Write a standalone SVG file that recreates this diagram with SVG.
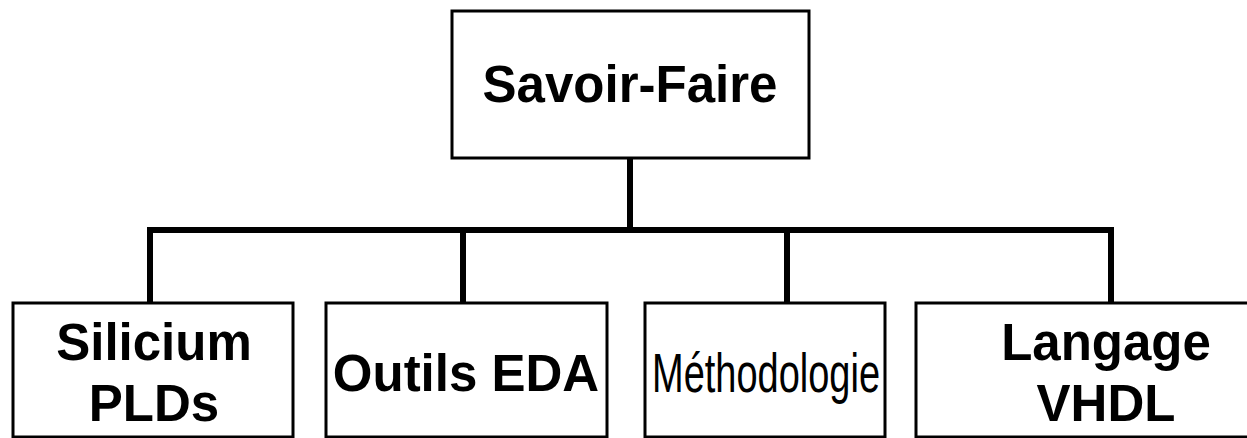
<svg xmlns="http://www.w3.org/2000/svg" width="1247" height="438" viewBox="0 0 1247 438">
  <style>
    .box { fill: #ffffff; stroke: #000000; stroke-width: 3; }
    .link { fill: none; stroke: #000000; stroke-width: 6; stroke-linecap: square; }
    .lbl { font-family: "Liberation Sans", Arial, sans-serif; font-weight: bold; font-size: 51px; fill: #000000; text-anchor: middle; }
    .narrow { font-family: "Liberation Sans", Arial, sans-serif; font-weight: normal; font-size: 55px; fill: #000000; text-anchor: middle; }
  </style>
  <rect width="1247" height="438" fill="#ffffff"/>

  <!-- tree connectors -->
  <g id="connectors">
    <line class="link" x1="630" y1="158" x2="630" y2="230"/>
    <line class="link" x1="150" y1="230" x2="1111" y2="230"/>
    <line class="link" x1="150" y1="230" x2="150" y2="302"/>
    <line class="link" x1="463" y1="230" x2="463" y2="302"/>
    <line class="link" x1="787" y1="230" x2="787" y2="302"/>
    <line class="link" x1="1111" y1="230" x2="1111" y2="302"/>
  </g>

  <g id="savoir-faire">
    <rect class="box" x="452" y="11" width="357" height="147"/>
    <text class="lbl" x="630" y="102">Savoir-Faire</text>
  </g>

  <g id="silicium">
    <rect class="box" x="13" y="303" width="280" height="134"/>
    <text class="lbl" x="154" y="360">Silicium</text>
    <text class="lbl" x="154" y="421">PLDs</text>
  </g>

  <g id="outils">
    <rect class="box" x="326" y="303" width="281" height="134"/>
    <text class="lbl" x="466" y="391">Outils EDA</text>
  </g>

  <g id="methodologie">
    <rect class="box" x="645" y="303" width="240" height="134"/>
    <text class="narrow" x="766" y="392" textLength="228" lengthAdjust="spacingAndGlyphs">Méthodologie</text>
  </g>

  <g id="langage">
    <rect class="box" x="916" y="303" width="380" height="134"/>
    <text class="lbl" x="1106" y="360">Langage</text>
    <text class="lbl" x="1106" y="421">VHDL</text>
  </g>
</svg>
